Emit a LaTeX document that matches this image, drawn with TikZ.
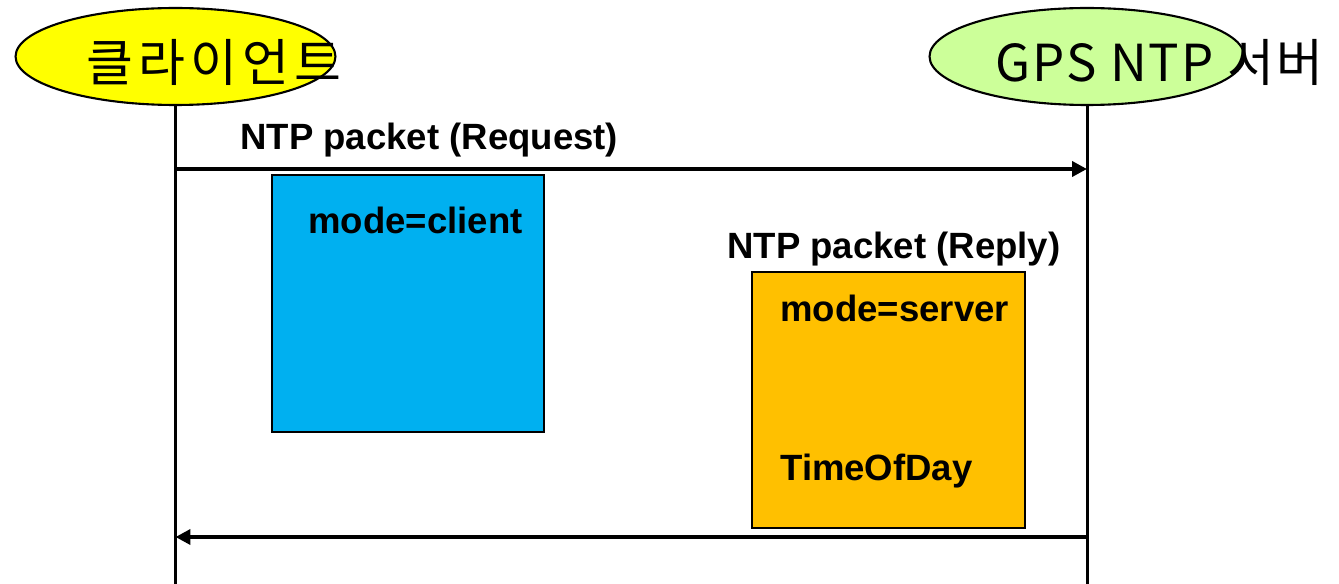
\documentclass[tikz,border=0pt]{standalone}
\usepackage{fontspec}
\setmainfont{Liberation Sans}
\newfontfamily\kr[LetterSpace=10]{Noto Sans CJK KR}
\newfontfamily\krwide[LetterSpace=4]{Noto Sans CJK KR}
\usetikzlibrary{positioning,arrows.meta}
\usetikzlibrary{shapes.geometric}
\definecolor{clientyellow}{HTML}{FFFF00}
\definecolor{servergreen}{HTML}{CCFF99}
\definecolor{reqblue}{HTML}{00B0F0}
\definecolor{repgold}{HTML}{FFC000}
\tikzstyle{party}=[draw, ellipse, line width=1.2pt, inner sep=0pt, minimum height=1.94cm]
\tikzstyle{title}=[anchor=base west, inner sep=0pt, font=\kr\fontsize{29}{32}\selectfont]
\tikzstyle{lbl}=[anchor=base west, inner sep=0pt, font=\fontsize{20.8}{24}\selectfont\bfseries]
\tikzstyle{packet}=[draw, line width=1.5pt, inner sep=0pt]
\tikzstyle{life}=[line width=1.7pt]
\tikzstyle{msg}=[line width=2.2pt, -{Triangle[length=8.5pt,width=8.5pt]}]

\begin{document}
\begin{tikzpicture}[x=0.02cm, y=-0.02cm]
	\useasboundingbox (0,0) rectangle (1339,584);
	\node[party, fill=clientyellow, minimum width=6.4cm] (client) at (175.5,56.5) {};
	\node[party, fill=servergreen, minimum width=6.3cm] (server) at (1087,56.5) {};
	\node[title] (clientname) at (86,82) {클라이언트};
	\node[title, font=\krwide\fontsize{29}{32}\selectfont] (servername) at (995,82) {GPS NTP 서버};
	\coordinate (clientend) at (175.5,584);
	\coordinate (serverend) at (1087,584);
	\draw[life] (client.south) -- (clientend);
	\draw[life] (server.south) -- (serverend);
	% request
	\coordinate (reqstart) at (175.5,169);
	\coordinate (reqend) at (1087,169);
	\draw[msg] (reqstart) -- (reqend);
	\node[lbl] (reqlbl) at (240,150) {NTP packet (Request)};
	\node[packet, fill=reqblue, minimum width=5.44cm, minimum height=5.14cm] (reqbox) at (408,303.5) {};
	\node[lbl] (reqmode) at (308,234) {mode=client};
	% reply
	\node[lbl] (replbl) at (727,258) {NTP packet (Reply)};
	\node[packet, fill=repgold, minimum width=5.46cm, minimum height=5.12cm] (repbox) at (888.5,400) {};
	\node[lbl] (repmode) at (780,321) {mode=server};
	\node[lbl] (reptime) at (780,480) {TimeOfDay};
	\coordinate (repstart) at (1087,537);
	\coordinate (repend) at (175.5,537);
	\draw[msg] (repstart) -- (repend);
\end{tikzpicture}
\end{document}
